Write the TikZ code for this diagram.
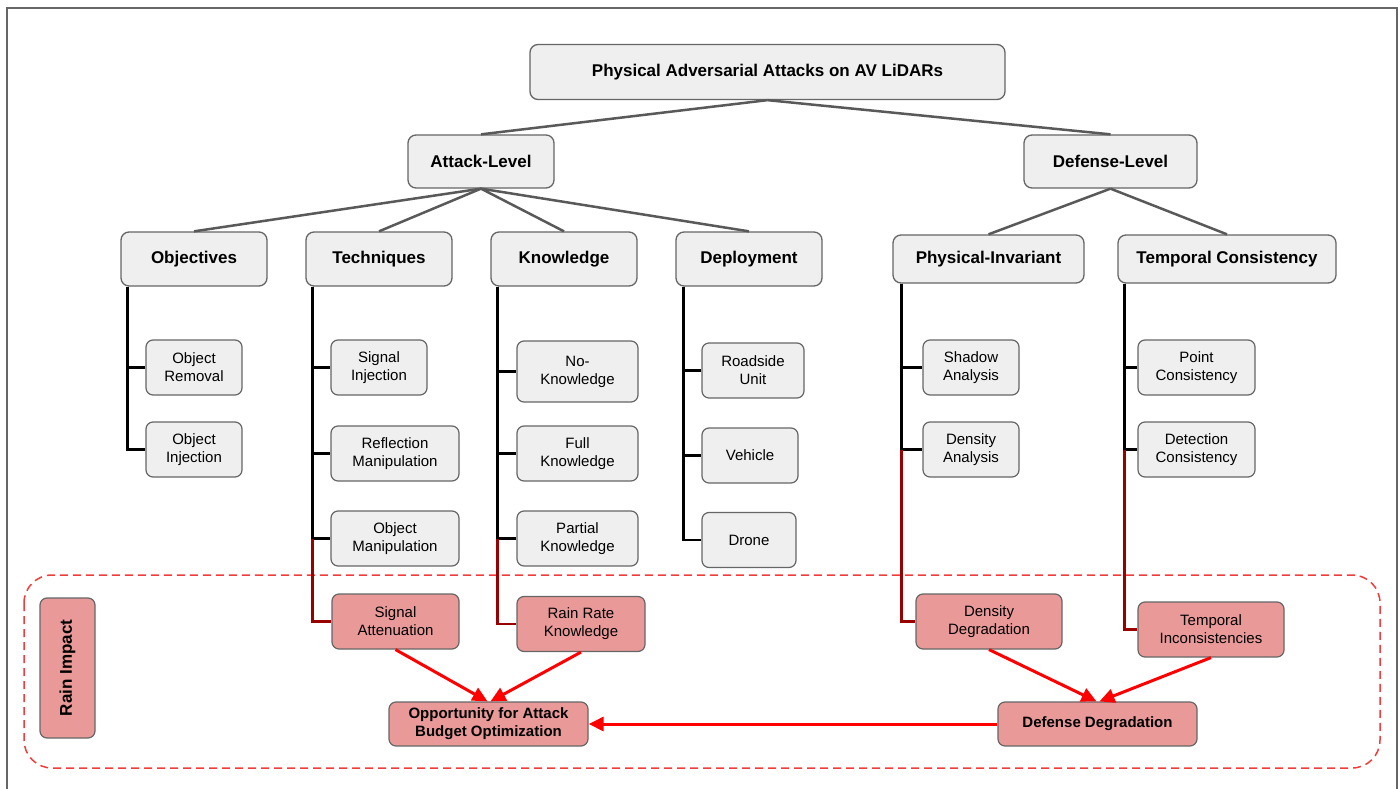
\documentclass[tikz,border=0pt]{standalone}
\usepackage{fontspec}
\setmainfont{Liberation Sans}
\usepackage{tikz}
\usetikzlibrary{positioning, calc, arrows.meta}
\definecolor{boxgray}{HTML}{EFEFEF}
\definecolor{edgegray}{HTML}{666666}
\definecolor{linkgray}{HTML}{595959}
\definecolor{rainpink}{HTML}{EA9999}
\definecolor{barred}{HTML}{990000}
\definecolor{arrred}{HTML}{FF0000}
\definecolor{zonered}{HTML}{F03C3C}
\tikzset{hbox/.style={draw=edgegray, line width=1.3pt, fill=boxgray, rounded corners=8, inner sep=2pt, align=center, font=\fontsize{17}{20}\selectfont\bfseries}}
\tikzset{lbox/.style={draw=edgegray, line width=1.2pt, fill=boxgray, rounded corners=7, inner sep=2pt, align=center, minimum height=55, font=\fontsize{15}{18}\selectfont}}
\tikzset{rbox/.style={lbox, fill=rainpink}}
\tikzset{rhead/.style={rbox, font=\fontsize{15}{18}\selectfont\bfseries}}
\tikzset{treelink/.style={draw=linkgray, line width=2.5pt}}
\tikzset{leafbar/.style={draw=black, line width=2.3pt}}
\tikzset{rainbar/.style={draw=barred, line width=2.3pt}}
\tikzset{rainarr/.style={draw=arrred, line width=3pt, -{Triangle[length=15pt,width=14pt]}}}
\tikzset{rainzone/.style={draw=zonered, line width=1.5pt, dash pattern=on 8pt off 5pt, rounded corners=28}}

\begin{document}
\begin{tikzpicture}[x=1pt, y=-1pt]
	\useasboundingbox (0,0) rectangle (1398,789);
	\draw[edgegray, line width=1.2pt] (7,789) -- (7,8) -- (1397,8) -- (1397,789);
	\draw[rainzone] (24,575) rectangle (1380,768);

	% top levels
	\node[hbox, minimum width=475, minimum height=55] (root) at (767.5,72) {Physical Adversarial Attacks on AV LiDARs};
	\node[hbox, minimum width=146, minimum height=53] (atk) at (481,161.5) {Attack-Level};
	\node[hbox, minimum width=173, minimum height=53] (dfn) at (1110.5,161.5) {Defense-Level};

	\node[hbox, minimum width=146, minimum height=54] (obj) at (194,259) {Objectives};
	\node[hbox, minimum width=146, minimum height=54] (tech) at (379,259) {Techniques};
	\node[hbox, minimum width=146, minimum height=54] (know) at (564,259) {Knowledge};
	\node[hbox, minimum width=146, minimum height=54] (depl) at (749,259) {Deployment};
	\node[hbox, minimum width=191, minimum height=48] (phys) at (988.5,259) {Physical-Invariant};
	\node[hbox, minimum width=218, minimum height=48] (temp) at (1227,259) {Temporal Consistency};

	\draw[treelink] (root.south) -- (atk.north);
	\draw[treelink] (root.south) -- (dfn.north);
	\foreach \c in {obj,tech,know,depl}
		\draw[treelink] (atk.south) -- (\c.north);
	\foreach \c in {phys,temp}
		\draw[treelink] (dfn.south) -- (\c.north);

	% leaves
	\node[lbox, minimum width=96] (objrem) at (194,367.5) {Object\\Removal};
	\node[lbox, minimum width=96] (objinj) at (194,449.5) {Object\\Injection};
	\node[lbox, minimum width=96] (siginj) at (379,367.5) {Signal\\Injection};
	\node[lbox, minimum width=128] (reflm) at (395,453.5) {Reflection\\Manipulation};
	\node[lbox, minimum width=128] (objman) at (395,538.5) {Object\\Manipulation};
	\node[lbox, minimum width=121, minimum height=61] (noknow) at (577.5,371.5) {No-\\Knowledge};
	\node[lbox, minimum width=121] (fullknow) at (577.5,453.5) {Full\\Knowledge};
	\node[lbox, minimum width=121] (partknow) at (577.5,538.5) {Partial\\Knowledge};
	\node[lbox, minimum width=102] (rsu) at (753,370.5) {Roadside\\Unit};
	\node[lbox, minimum width=96] (veh) at (750,455.5) {Vehicle};
	\node[lbox, minimum width=94] (drone) at (749,540) {Drone};
	\node[lbox, minimum width=96] (shadow) at (971,367.5) {Shadow\\Analysis};
	\node[lbox, minimum width=96] (density) at (971,449.5) {Density\\Analysis};
	\node[lbox, minimum width=117] (pointc) at (1196.5,367.5) {Point\\Consistency};
	\node[lbox, minimum width=117] (detc) at (1196.5,449.5) {Detection\\Consistency};

	% rain impact
	\node[rbox, minimum width=127] (sigatt) at (395.5,621.5) {Signal\\Attenuation};
	\node[rbox, minimum width=128] (rainknow) at (581,624) {Rain Rate\\Knowledge};
	\node[rbox, minimum width=146] (densdeg) at (989,621.5) {Density\\Degradation};
	\node[rbox, minimum width=146] (tempinc) at (1211,629.5) {Temporal\\Inconsistencies};
	\node[rhead, rotate=90, minimum width=140, minimum height=55, font=\fontsize{17}{20}\selectfont\bfseries] (rain) at (67.5,668) {Rain Impact};
	\node[rhead, minimum width=199, minimum height=44] (opp) at (488.5,724) {Opportunity for Attack\\Budget Optimization};
	\node[rhead, minimum width=199, minimum height=44] (defdeg) at (1097.5,724) {Defense Degradation};

	\coordinate (objbar) at ([xshift=7pt]obj.south west);
	\coordinate (techbar) at ([xshift=7pt]tech.south west);
	\coordinate (knowbar) at ([xshift=7pt]know.south west);
	\coordinate (deplbar) at ([xshift=8pt]depl.south west);
	\coordinate (physbar) at ([xshift=9pt]phys.south west);
	\coordinate (tempbar) at ([xshift=7pt]temp.south west);

	\foreach \l in {objrem,objinj}
		\draw[leafbar] (objbar) |- (\l.west);
	\foreach \l in {siginj,reflm,objman}
		\draw[leafbar] (techbar) |- (\l.west);
	\foreach \l in {noknow,fullknow,partknow}
		\draw[leafbar] (knowbar) |- (\l.west);
	\foreach \l in {rsu,veh,drone}
		\draw[leafbar] (deplbar) |- (\l.west);
	\foreach \l in {shadow,density}
		\draw[leafbar] (physbar) |- (\l.west);
	\foreach \l in {pointc,detc}
		\draw[leafbar] (tempbar) |- (\l.west);

	\draw[rainbar] (techbar |- objman.west) |- (sigatt.west);
	\draw[rainbar] (knowbar |- partknow.west) |- (rainknow.west);
	\draw[rainbar] (physbar |- density.west) |- (densdeg.west);
	\draw[rainbar] (tempbar |- detc.west) |- (tempinc.west);

	\draw[rainarr] (sigatt.south) -- ([xshift=-1pt]opp.north);
	\draw[rainarr] (rainknow.south) -- ([xshift=2pt]opp.north);
	\draw[rainarr] (densdeg.south) -- ([xshift=-1pt]defdeg.north);
	\draw[rainarr] (tempinc.south) -- ([xshift=2pt]defdeg.north);
	\draw[rainarr] (defdeg.west) -- (opp.east);
\end{tikzpicture}
\end{document}
